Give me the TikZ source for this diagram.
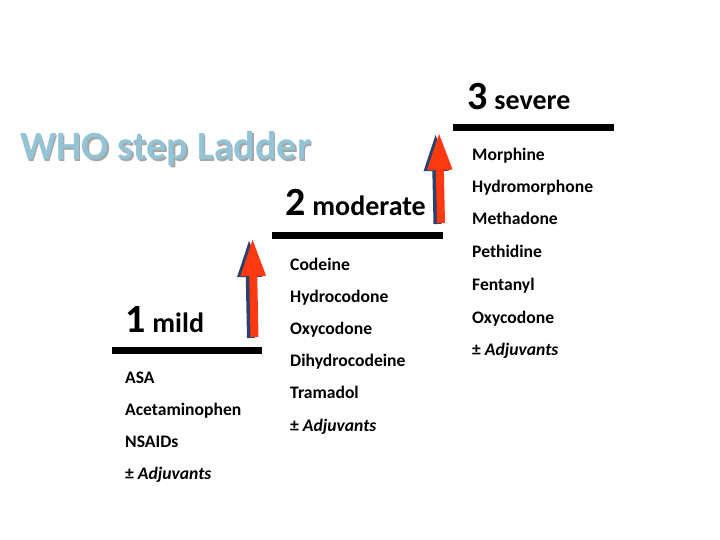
\documentclass[tikz,border=0pt]{standalone}
\usepackage{fontspec}
\setmainfont{Carlito}
\usetikzlibrary{arrows.meta}
\definecolor{titleblue}{RGB}{146,196,214}
\definecolor{arrowred}{RGB}{255,58,16}
\definecolor{arrowshade}{RGB}{44,66,110}
\tikzset{
  drug/.style={anchor=base west,inner sep=0pt,font=\fontsize{17.6}{20}\selectfont\bfseries},
  stepname/.style={anchor=base west,inner sep=0pt,font=\bfseries},
  stepbar/.style={line width=7pt},
  uparrow/.style={line width=8pt,arrowred,-{Triangle[width=23pt,length=38pt]}},
  upshade/.style={line width=8pt,arrowshade,-{Triangle[width=23pt,length=38pt]}}
}
\newcommand{\stepno}[2]{{\fontsize{40}{48}\selectfont #1}\hspace{7pt}{\fontsize{28}{34}\selectfont #2}}
\begin{document}
\begin{tikzpicture}[x=1pt,y=-1pt]
  \useasboundingbox (0,0) rectangle (720,540);

  % title with its shadow
  \node[stepname,gray!70,font=\fontsize{40}{48}\selectfont\bfseries] (titleshade) at (21.5,161.5) {WHO step Ladder};
  \node[stepname,titleblue,font=\fontsize{40}{48}\selectfont\bfseries] (title) at (20,160) {WHO step Ladder};

  % step 1
  \node[stepname] (mild) at (125,332) {\stepno{1}{mild}};
  \coordinate (bar1l) at (112,350.5);
  \coordinate (bar1r) at (262,350.5);
  \draw[stepbar] (bar1l) -- (bar1r);
  \node[drug] (asa) at (125,383) {ASA};
  \node[drug] (acet) at (125,415) {Acetaminophen};
  \node[drug] (nsaid) at (125,447) {NSAIDs};
  \node[drug] (adj1) at (125,479.5) {± \textit{Adjuvants}};

  % arrow from step 1 to step 2
  \coordinate (a1s) at (254.5,337);
  \coordinate (a1e) at (252.5,238);
  \draw[upshade] ([xshift=-3.5pt,yshift=-1pt]a1s) -- ([xshift=-3.5pt,yshift=-1pt]a1e);
  \draw[uparrow] (a1s) -- (a1e);

  % step 2
  \node[stepname] (moderate) at (285,215) {\stepno{2}{moderate}};
  \coordinate (bar2l) at (272,235.5);
  \coordinate (bar2r) at (443,235.5);
  \draw[stepbar] (bar2l) -- (bar2r);
  \node[drug] (codeine) at (290,270) {Codeine};
  \node[drug] (hydroc) at (290,302) {Hydrocodone};
  \node[drug] (oxy2) at (290,334) {Oxycodone};
  \node[drug] (dihydro) at (290,366) {Dihydrocodeine};
  \node[drug] (tram) at (290,398) {Tramadol};
  \node[drug] (adj2) at (290,431) {± \textit{Adjuvants}};

  % arrow from step 2 to step 3
  \coordinate (a2s) at (441,223);
  \coordinate (a2e) at (439,132);
  \draw[upshade] ([xshift=-3.5pt,yshift=-1pt]a2s) -- ([xshift=-3.5pt,yshift=-1pt]a2e);
  \draw[uparrow] (a2s) -- (a2e);

  % step 3
  \node[stepname] (severe) at (467,110) {\stepno{3}{severe}};
  \coordinate (bar3l) at (453,128);
  \coordinate (bar3r) at (614,128);
  \draw[stepbar] (bar3l) -- (bar3r);
  \node[drug] (morph) at (472,161) {Morphine};
  \node[drug] (hydrom) at (472,193) {Hydromorphone};
  \node[drug] (metha) at (472,225) {Methadone};
  \node[drug] (peth) at (472,258) {Pethidine};
  \node[drug] (fent) at (472,290) {Fentanyl};
  \node[drug] (oxy3) at (472,323) {Oxycodone};
  \node[drug] (adj3) at (472,355) {± \textit{Adjuvants}};
\end{tikzpicture}
\end{document}
